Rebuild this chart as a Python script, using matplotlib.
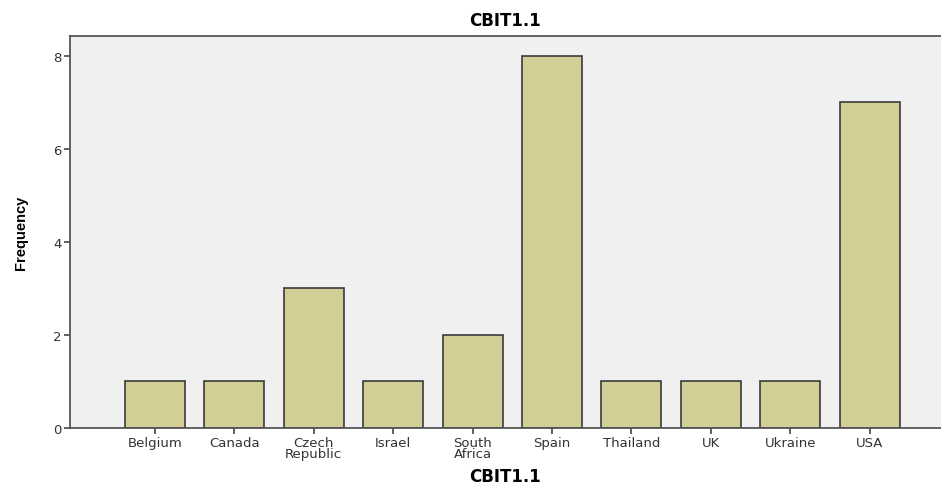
import matplotlib
matplotlib.use('Agg')
import matplotlib.pyplot as plt
import numpy as np

countries = ['Belgium', 'Canada', 'Czech\nRepublic', 'Israel', 'South\nAfrica',
             'Spain', 'Thailand', 'UK', 'Ukraine', 'USA']
frequency = [1, 1, 3, 1, 2, 8, 1, 1, 1, 7]
y_ticks = [0, 2, 4, 6, 8]

plt.rcParams['font.family'] = ['DejaVu Sans']

fig = plt.figure(figsize=(9.41, 4.85), dpi=100)
ax = fig.add_axes([70 / 941, 56 / 485, 871 / 941, 392 / 485])
ax.set_facecolor('#f0f0f0')

x = np.arange(len(countries))
ax.bar(x, frequency, width=0.755, color='#d3ce96', edgecolor='#3a3a3a', linewidth=1.2, zorder=2)

ax.set_xlim(-1.07, 9.9)
ax.set_ylim(0, 8.43)
ax.set_xticks(x)
ax.set_xticklabels(countries, fontsize=9.5, color='#333333', linespacing=0.8)
ax.set_yticks(y_ticks)
ax.set_yticklabels([str(v) for v in y_ticks], fontsize=9.5, color='#333333')
ax.tick_params(axis='both', direction='out', length=4, width=1.2, color='#444444', pad=2)

for side in ['left', 'top', 'bottom']:
    ax.spines[side].set_color('#555555')
    ax.spines[side].set_linewidth(1.3)
ax.spines['right'].set_visible(False)

ax.set_title('CBIT1.1', fontsize=12, fontweight='bold', pad=8)
ax.set_xlabel('CBIT1.1', fontsize=12, fontweight='bold')
ax.xaxis.set_label_coords(0.5, -0.1)
ax.set_ylabel('Frequency', fontsize=10.5, fontweight='bold', family='Liberation Sans', labelpad=18)

fig.savefig('out.png', dpi=100)
